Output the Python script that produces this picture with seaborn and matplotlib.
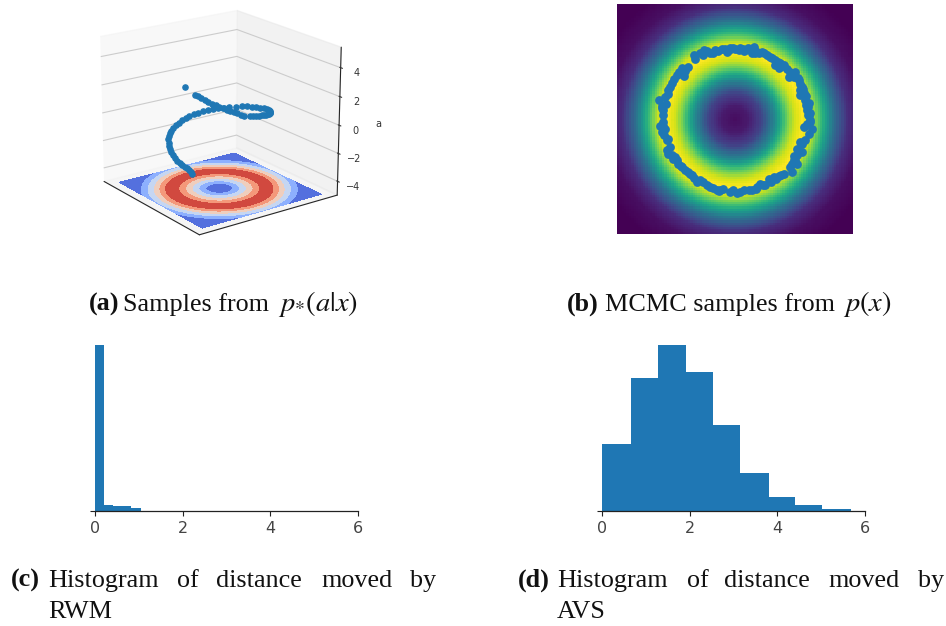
import numpy as np
import matplotlib
matplotlib.use('Agg')
import matplotlib.pyplot as plt
import seaborn as sns

W, H = 946, 626
BLUE = '#1f77b4'

# radial density profile of the ring
profile_r = [0.0, 0.4, 0.8, 1.2, 1.6, 1.8, 2.05, 2.3, 2.6, 3.0, 3.4, 3.8, 4.4, 5.2]
profile_heat = [0.03, 0.07, 0.2, 0.46, 0.8, 0.93, 1.0, 0.93, 0.68, 0.36, 0.13, 0.04, 0.0, 0.0]

# bands of the contour plane
band_r = [0.0, 0.54, 0.82, 1.09, 1.36, 1.63, 1.89, 2.15, 2.38, 2.6, 2.85, 3.12, 4.5]
band_heat = [0.0, 0.167, 0.333, 0.5, 0.667, 0.833, 1.0, 0.833, 0.667, 0.5, 0.333, 0.167, 0.0]
band_levels = [0, 0.167, 0.333, 0.5, 0.667, 0.833, 1.0]

# MCMC samples on the ring
ring_x = [-1.21, -1.19, -0.94, -0.84, -0.64, -0.59, -0.39, -0.24, -0.14, 0.01, 0.16, 0.31, 0.46, 0.56,
          0.66, 0.81, 0.96, 1.06, 1.21, 1.36, 1.31, 1.46, 1.66, 1.81, 1.76, 1.91, 2.01, 2.06, 1.96, 2.11,
          2.21, 2.16, 2.18, 2.26, 2.08, 2.31, 2.21, 2.11, 1.86, 2.01, 1.86, 1.81, 1.71, 1.86, 1.71, 1.46,
          1.31, 1.16, 1.01, 0.91, 0.76, 0.66, 0.51, 0.26, 0.06, -0.04, -0.34, -0.54, -0.74, -0.94, -1.14,
          -1.29, -1.39, -1.59, -1.69, -1.79, -1.99, -1.94, -1.99, -2.19, -2.09, -2.14, -2.14, -2.19,
          -2.26, -2.09, -1.99, -1.89, -1.74, -1.59, -1.39, -1.52, 0.26, 0.61, 1.21, 1.61, 1.96, 2.21,
          -1.84, -2.04, -2.14, -1.49, -1.04, -0.44,
          -0.74, -0.49, -0.29, -0.04, 0.11, 0.24, 0.38, 0.52, 0.72, 0.88, 1.12, 1.28, 1.42, 1.56, 1.72,
          1.88, 1.96, 2.04, 2.14, 2.2, 2.12, 2.24, 2.26, 2.16, 2.02, 1.94, 1.78, 1.66, 1.76, 1.38, 1.22, 1.08,
          0.84, 0.62, 0.42, 0.16, -0.14, -0.46, -0.64, -0.84, -1.04, -1.22, -1.34, -1.48, -1.62, -1.74, -1.88,
          -2.02, -2.12, -2.16, -2.05, -2.0, -1.82, -1.68, -1.94, -2.24, -2.18, -0.92, -0.18, 0.6]
ring_y = [1.93, 1.80, 1.93, 2.05, 2.00, 2.08, 2.10, 2.03, 2.13, 2.10, 2.13, 2.08, 2.08, 2.18,
          2.03, 2.03, 1.93, 1.88, 1.78, 1.68, 1.53, 1.63, 1.43, 1.43, 1.28, 1.18, 0.98, 0.78, 0.73, 0.58,
          0.48, 0.28, 0.13, -0.07, -0.22, -0.27, -0.42, -0.62, -0.87, -0.97, -1.07, -1.22, -1.32, -1.32, -1.57,
          -1.62, -1.70, -1.72, -1.77, -1.97, -1.92, -2.02, -2.12, -2.12, -2.20, -2.12, -2.07, -2.10, -2.02,
          -1.87, -1.87, -1.67, -1.57, -1.42, -1.32, -1.12, -1.02, -0.82, -0.57, -0.37, -0.27, -0.07, 0.13,
          0.33, 0.58, 0.68, 0.88, 1.08, 1.33, 1.53, 1.58, 1.31, 2.06, 1.98, 1.63, 1.28, 0.88, 0.12,
          -1.17, -0.62, 0.28, 1.45, 2.0, -2.1,
          2.0, 2.05, 2.12, 2.14, 2.08, 2.12, 2.14, 2.0, 2.0, 2.0, 1.85, 1.73, 1.6, 1.52, 1.36,
          1.25, 1.06, 0.9, 0.7, 0.38, 0.42, 0.2, -0.02, -0.14, -0.74, -0.68, -1.1, -1.42, -1.22, -1.66, -1.78, -1.88,
          -1.95, -2.08, -2.12, -2.16, -2.18, -2.14, -2.05, -1.96, -1.82, -1.74, -1.62, -1.5, -1.38, -1.22, -1.06,
          -0.92, -0.46, -0.18, 0.46, 0.75, 1.2, 1.42, 0.98, -0.2, 0.4, 2.07, 2.07, 2.06]

# samples of a against position on the ring (angle in degrees, a)
helix_phi = [-67, -69, -72, -74, -78, -82, -86, -90, -95, -100, -105, -110, -115, -120, -126, -132, -138, -144,
             -150, -156, -162, -168, -174, -179, -185, -191, -197, -203, -209, -215, -221, -227, -236, -243,
             -250, -257, -264, -271, -278, -285, -292, -299, -306, -311, -316, -321, -326, -331, -336, -341,
             -346, -351, -356, -361, -368, -372, -376, -380, -384, -388, -392, -396, -400, -404, -408, -412,
             -416, -420, -423, -437]
helix_a = [-2.8, -2.7, -2.62, -2.5, -2.48, -2.4, -2.32, -2.23, -2.12, -2.01, -1.9, -1.79, -1.67, -1.56, -1.43,
           -1.35, -1.27, -1.2, -1.12, -1.04, -0.96, -0.88, -0.81, -0.74, -0.68, -0.63, -0.57, -0.52, -0.46, -0.4,
           -0.35, -0.29, -0.21, -0.14, -0.07, 0.0, 0.07, 0.15, 0.22, 0.29, 0.36, 0.43, 0.5, 0.56, 0.63, 0.69,
           0.75, 0.81, 0.88, 0.94, 1.0, 1.07, 1.13, 1.19, 1.29, 1.39, 1.5, 1.6, 1.7, 1.81, 1.91, 2.02, 2.12, 2.22,
           2.33, 2.43, 2.53, 2.63, 2.71, 3.1]

# histograms of distance moved
rwm_edges = [0.0, 0.21, 0.42, 0.62, 0.83, 1.04]
rwm_heights = [497, 18, 14, 14, 8]
avs_edges = [0.0, 0.66, 1.28, 1.91, 2.53, 3.14, 3.80, 4.41, 5.03, 5.68]
avs_heights = [200, 397, 497, 415, 258, 115, 43, 19, 5]
dist_ticks = [0, 2, 4, 6]

sns.set_style('white')
plt.rcParams['font.family'] = ['DejaVu Sans']
plt.rcParams['mathtext.fontset'] = 'stix'
SERIF = 'Liberation Serif'

fig = plt.figure(figsize=(W / 100, H / 100), dpi=100)


def rect(x0, y0, x1, y1):
    # pixel box in the picture to figure fractions
    return [x0 / W, 1 - y1 / H, (x1 - x0) / W, (y1 - y0) / H]


def density(x, y):
    return np.interp(np.hypot(x, y), profile_r, profile_heat)


# (a) samples from p*(a|x)
ax = fig.add_axes(rect(43, -20, 388, 260), projection='3d', computed_zorder=False)
gx, gy = np.meshgrid(np.linspace(-2.9, 2.9, 300), np.linspace(-2.9, 2.9, 300))
ax.contourf(gx, gy, np.interp(np.hypot(gx, gy), band_r, band_heat), levels=band_levels,
            cmap='coolwarm', zdir='z', offset=-5, zorder=1)
phi = np.radians(helix_phi)
ax.scatter(2.02 * np.cos(phi), 2.02 * np.sin(phi), helix_a, color=BLUE, s=14, alpha=1, depthshade=False, zorder=2)
ax.view_init(elev=19, azim=-36)
ax.set_box_aspect((4, 4, 3.65), zoom=0.99)
ax.set_xlim(-3.35, 3.35)
ax.set_ylim(-3.35, 3.35)
ax.set_zlim(-5, 5.4)
ax.set_xticks([])
ax.set_yticks([])
ax.set_zticks([-4, -2, 0, 2, 4])
ax.tick_params(labelsize=7, colors='#333333', pad=-1)
ax.set_zlabel('a', fontsize=7, color='#333333', labelpad=-4)
ax.patch.set_alpha(0)

# (b) MCMC samples from p(x)
ax = fig.add_axes(rect(617, 4, 853, 234))
n = 100
x_lo, x_hi, y_lo, y_hi = -3.52, 3.53, -3.42, 3.45
cx = np.linspace(x_lo, x_hi, n)
cy = np.linspace(y_hi, y_lo, n)
sns.heatmap(density(*np.meshgrid(cx, cy)), ax=ax, cmap='viridis', vmin=0, vmax=1, cbar=False,
            xticklabels=False, yticklabels=False, rasterized=True)
sns.scatterplot(x=(np.array(ring_x) - x_lo) / (x_hi - x_lo) * n, y=(y_hi - np.array(ring_y)) / (y_hi - y_lo) * n,
                ax=ax, color=BLUE, s=40, linewidth=0, zorder=3)
ax.set_xlim(0, n)
ax.set_ylim(n, 0)


# (c), (d) histograms
def hist_panel(box, edges, heights):
    ax = fig.add_axes(box)
    centers = [(a + b) / 2 for a, b in zip(edges[:-1], edges[1:])]
    sns.histplot(x=centers, weights=heights, bins=edges, ax=ax, color=BLUE, alpha=1, linewidth=0)
    ax.set_xlim(0, 6)
    ax.set_ylim(0, 497)
    ax.set_xticks(dist_ticks)
    ax.set_yticks([0])
    ax.set_yticklabels([])
    ax.set_ylabel('')
    ax.tick_params(axis='both', length=3.5, width=0.8, color='#222222', left=True, bottom=True)
    ax.tick_params(axis='x', labelsize=11.5, labelcolor='#444444', pad=3.5)
    for s in ['top', 'right', 'left']:
        ax.spines[s].set_visible(False)
    ax.spines['bottom'].set_color('#222222')
    ax.spines['bottom'].set_linewidth(0.9)
    ax.patch.set_alpha(0)


hist_panel(rect(95, 345, 358, 511), rwm_edges, rwm_heights)
hist_panel(rect(602, 345, 865, 511), avs_edges, avs_heights)


# captions
def cap(x, y, s, size=18.8, **kw):
    fig.text(x / W, 1 - y / H, s, family=SERIF, fontsize=size, color='#111111', va='baseline', **kw)


cap(89, 311, '(a)', weight='bold')
cap(123, 311, 'Samples from')
cap(278, 311, '$p_{*}(a|x)$', size=20.5)
cap(567, 311, '(b)', weight='bold')
cap(605, 311, 'MCMC samples from')
cap(843, 311, '$p(x)$', size=20.5)
for x, s in [(48, 'Histogram'), (177, 'of'), (216, 'distance'), (321, 'moved'), (410, 'by')]:
    cap(x, 587, s)
cap(11, 587, '(c)', weight='bold')
cap(48, 618, 'RWM')
for x, s in [(557, 'Histogram'), (687, 'of'), (724, 'distance'), (828, 'moved'), (918, 'by')]:
    cap(x, 587, s)
cap(518, 587, '(d)', weight='bold')
cap(557, 618, 'AVS')

fig.savefig('out.png', dpi=100)
